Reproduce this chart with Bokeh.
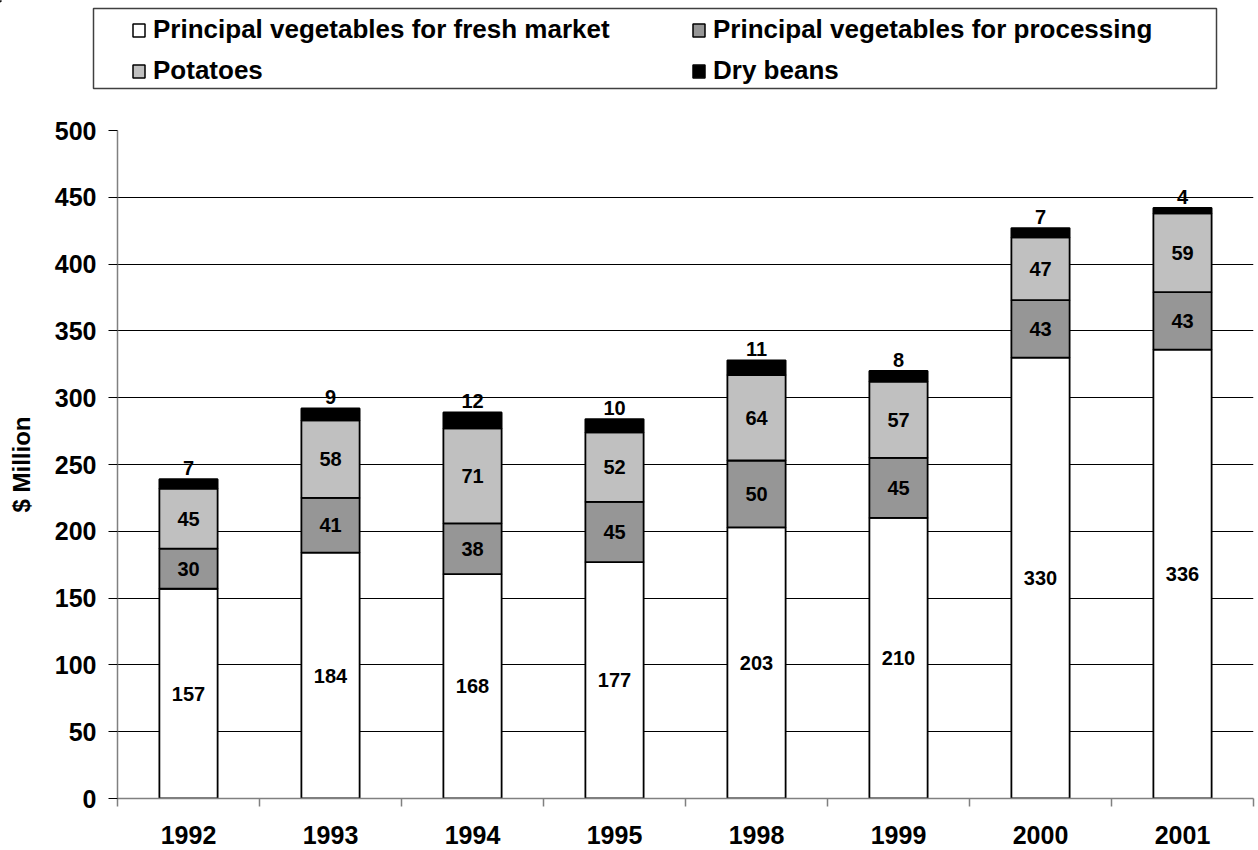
import numpy as np
from bokeh.plotting import figure
from bokeh.layouts import column, row
from bokeh.models import (ColumnDataSource, Range1d, FixedTicker, LabelSet,
                          Legend, LegendItem)
from bokeh.core.properties import value
from bokeh.embed import file_html
from bokeh.resources import INLINE

# ---- data ----
years = ["1992", "1993", "1994", "1995", "1998", "1999", "2000", "2001"]
fresh = [157, 184, 168, 177, 203, 210, 330, 336]
processing = [30, 41, 38, 45, 50, 45, 43, 43]
potatoes = [45, 58, 71, 52, 64, 57, 47, 59]
dry_beans = [7, 9, 12, 10, 11, 8, 7, 4]
series_names = ["Principal vegetables for fresh market",
                "Principal vegetables for processing",
                "Potatoes", "Dry beans"]
y_ticks = [0, 50, 100, 150, 200, 250, 300, 350, 400, 450, 500]

colors = ["#FFFFFF", "#969696", "#C0C0C0", "#000000"]
FONT = "Liberation Sans"
W = 1258
TOP_H = 110
MAIN_H = 740

n = len(years)
x = np.arange(n) + 0.5
f = np.array(fresh, float)
pr = np.array(processing, float)
po = np.array(potatoes, float)
db = np.array(dry_beans, float)

b0 = np.zeros(n); t0 = f
b1 = t0; t1 = b1 + pr
b2 = t1; t2 = b2 + po
b3 = t2; t3 = b3 + db

src = ColumnDataSource(dict(
    x=x, b0=b0, t0=t0, b1=b1, t1=t1, b2=b2, t2=t2, b3=b3, t3=t3,
    m0=(b0 + t0) / 2, m1=(b1 + t1) / 2, m2=(b2 + t2) / 2,
    l0=[str(v) for v in fresh], l1=[str(v) for v in processing],
    l2=[str(v) for v in potatoes], l3=[str(v) for v in dry_beans],
))

# ---------------- main chart ----------------
p = figure(width=W, height=MAIN_H, output_backend="svg", toolbar_location=None,
           x_range=Range1d(0, n), y_range=Range1d(0, 500),
           min_border_left=117, min_border_right=5, min_border_top=20,
           min_border_bottom=52, outline_line_color=None)

bw = 0.41
for i in range(4):
    p.vbar(x="x", bottom="b%d" % i, top="t%d" % i, width=bw, source=src,
           fill_color=colors[i], line_color="black", line_width=1.8)

lab_style = dict(text_font=value(FONT), text_font_size=value("20px"),
                 text_font_style=value("bold"), text_color=value("black"),
                 text_align=value("center"))
for mid, lab in (("m0", "l0"), ("m1", "l1"), ("m2", "l2")):
    p.add_layout(LabelSet(x="x", y=mid, text=lab, source=src,
                          text_baseline=value("middle"), **lab_style))
p.add_layout(LabelSet(x="x", y="t3", text="l3", source=src,
                      text_baseline=value("bottom"), y_offset=4, **lab_style))

p.yaxis.ticker = FixedTicker(ticks=y_ticks)
p.yaxis.axis_label = "$ Million"
p.yaxis.axis_label_text_font = FONT
p.yaxis.axis_label_text_font_size = "24px"
p.yaxis.axis_label_text_font_style = "bold"
p.yaxis.axis_label_text_color = "black"
p.yaxis.axis_label_standoff = 17
p.yaxis.major_label_text_font = FONT
p.yaxis.major_label_text_font_size = "25px"
p.yaxis.major_label_text_font_style = "bold"
p.yaxis.major_label_text_color = "black"
p.yaxis.major_label_standoff = 12
p.yaxis.axis_line_color = "#808080"
p.yaxis.axis_line_width = 1.5
p.yaxis.major_tick_line_color = "black"
p.yaxis.major_tick_out = 9
p.yaxis.major_tick_in = 0
p.yaxis.minor_tick_line_color = None

p.xaxis.ticker = FixedTicker(ticks=list(x), minor_ticks=list(range(n + 1)))
p.xaxis.major_label_overrides = {float(xx): yr for xx, yr in zip(x, years)}
p.xaxis.major_label_text_font = FONT
p.xaxis.major_label_text_font_size = "25px"
p.xaxis.major_label_text_font_style = "bold"
p.xaxis.major_label_text_color = "black"
p.xaxis.major_label_standoff = 19
p.xaxis.major_tick_out = 0
p.xaxis.major_tick_in = 0
p.xaxis.minor_tick_out = 8
p.xaxis.minor_tick_in = 0
p.xaxis.minor_tick_line_color = "#808080"
p.xaxis.minor_tick_line_width = 1.5
p.xaxis.axis_line_color = "#808080"
p.xaxis.axis_line_width = 1.5

p.xgrid.grid_line_color = None
p.ygrid.ticker = FixedTicker(ticks=y_ticks[1:])
p.ygrid.grid_line_color = "black"
p.ygrid.grid_line_width = 1

# ---------------- legend strip ----------------
top = figure(width=W, height=TOP_H, output_backend="svg", toolbar_location=None,
             x_range=Range1d(0, W), y_range=Range1d(TOP_H, 0),
             x_axis_type=None, y_axis_type=None, outline_line_color=None,
             min_border=0)
top.xgrid.grid_line_color = None
top.ygrid.grid_line_color = None
top.quad(left=[93], right=[1216], top=[8], bottom=[88], fill_color="white",
         line_color="#404040", line_width=1.5)
# off-screen stand-ins that carry each series' legend swatch style
leg_r = [top.vbar(x=[-1000], top=[1], width=1, fill_color=colors[i],
                  line_color="black", line_width=1.5) for i in range(4)]
order = [0, 2, 1, 3]  # column-major fill -> rows: fresh|processing, potatoes|dry beans
items = [LegendItem(label=series_names[i], renderers=[leg_r[i]]) for i in order]
legend = Legend(items=items, ncols=2, location=(131, 24),
                label_text_font=FONT, label_text_font_size="26px",
                label_text_font_style="bold", label_text_color="black",
                glyph_width=15, glyph_height=16, label_height=24,
                label_width=528, label_standoff=7, spacing=10, padding=6,
                border_line_color=None, background_fill_alpha=0.0,
                margin=0)
top.add_layout(legend, "center")

layout = column(row(top), p, spacing=0)
open("out.html", "w").write(file_html(layout, INLINE))
